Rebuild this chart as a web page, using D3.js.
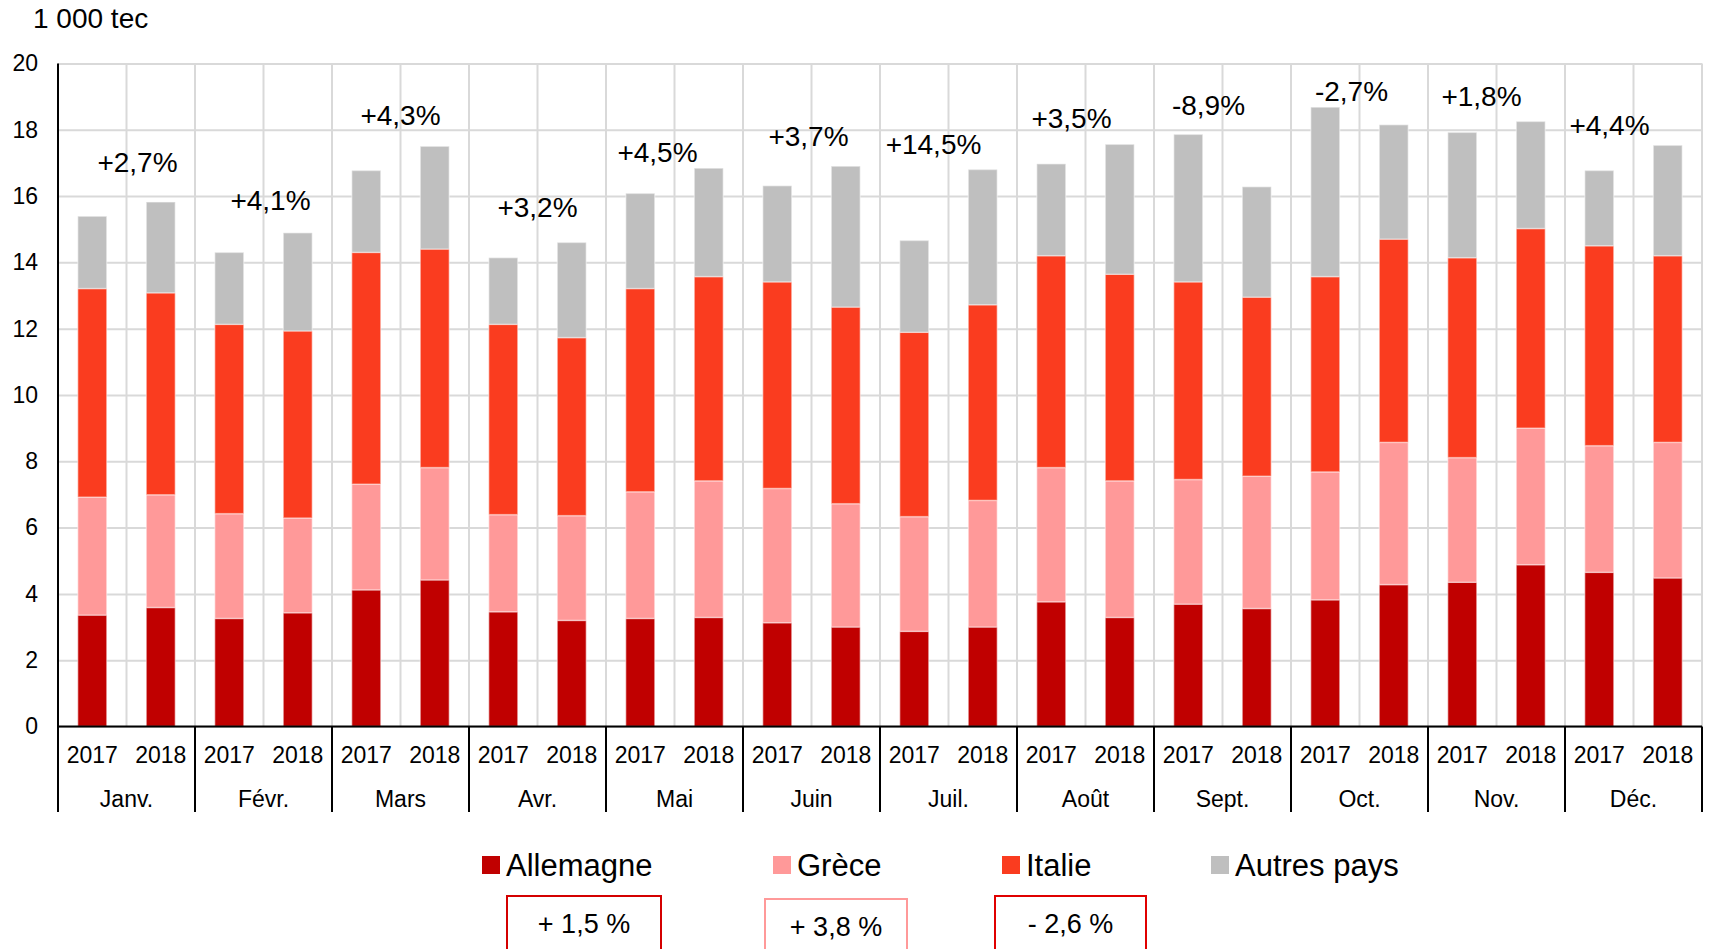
<!DOCTYPE html>
<html>
<head>
<meta charset="utf-8">
<script src="https://cdn.jsdelivr.net/npm/d3@7"></script>
<style>
  body { margin: 0; background: #fff; }
  svg { display: block; font-family: "Liberation Sans", Arial, sans-serif; }
</style>
</head>
<body>
<svg id="chart" width="1713" height="949"></svg>
<script>
// months and years (each month has a 2017 and a 2018 bar)
const months = ["Janv.", "Févr.", "Mars", "Avr.", "Mai", "Juin", "Juil.", "Août", "Sept.", "Oct.", "Nov.", "Déc."];
const years = ["2017", "2018"];

// values in 1 000 tec, ordered Janv 2017, Janv 2018, Févr 2017, ...
const allemagne = [3.36, 3.59, 3.26, 3.43, 4.12, 4.42, 3.46, 3.20, 3.26, 3.29, 3.13, 3.00,
                   2.87, 3.00, 3.76, 3.29, 3.69, 3.56, 3.82, 4.28, 4.35, 4.88, 4.65, 4.48];
const grece = [3.56, 3.40, 3.16, 2.86, 3.19, 3.39, 2.93, 3.16, 3.82, 4.12, 4.05, 3.72,
               3.46, 3.82, 4.05, 4.12, 3.76, 3.99, 3.86, 4.29, 3.76, 4.12, 3.82, 4.09];
const italie = [6.29, 6.09, 5.71, 5.64, 6.99, 6.59, 5.74, 5.37, 6.13, 6.16, 6.23, 5.93,
                5.56, 5.90, 6.39, 6.23, 5.96, 5.40, 5.89, 6.13, 6.03, 6.02, 6.03, 5.63];
const autres = [2.18, 2.74, 2.17, 2.96, 2.47, 3.10, 2.01, 2.87, 2.87, 3.27, 2.90, 4.25,
                2.77, 4.08, 2.77, 3.92, 4.45, 3.33, 5.11, 3.45, 3.78, 3.23, 2.27, 3.33];

// yearly change per month, printed above each pair
const monthChange = ["+2,7%", "+4,1%", "+4,3%", "+3,2%", "+4,5%", "+3,7%", "+14,5%", "+3,5%", "-8,9%", "-2,7%", "+1,8%", "+4,4%"];

const seriesNames = ["Allemagne", "Grèce", "Italie", "Autres pays"];
// yearly change for the first three countries (boxes under the legend)
const seriesChange = ["+ 1,5 %", "+ 3,8 %", "- 2,6 %"];

const yTicks = [0, 2, 4, 6, 8, 10, 12, 14, 16, 18, 20];

// where the month labels sit: value on y axis, pixel shift from month centre
const labelY = [17.0, 15.85, 18.42, 15.65, 17.3, 17.79, 17.56, 18.35, 18.72, 19.14, 19.01, 18.12];
const labelDx = [11, 7, 0, 0, -17, -3, -15, -14, -14, -8, -15, -24];

const colors = ["#c00000", "#ff9999", "#fa3c1f", "#bfbfbf"];

const svg = d3.select("#chart");
const plotLeft = 58, plotRight = 1702, plotTop = 63.4, plotBottom = 726.5;

const x0 = d3.scaleBand().domain(months).range([plotLeft, plotRight]);
const x1 = d3.scaleBand().domain(years).range([0, x0.bandwidth()])
    .paddingInner(0.577).paddingOuter(0.2885);
const y = d3.scaleLinear().domain([0, 20]).range([plotBottom, plotTop]);

// build rows for the stack
const rows = [];
months.forEach((m, i) => {
    years.forEach((yr, j) => {
        const k = i * 2 + j;
        rows.push({month: m, year: yr, "Allemagne": allemagne[k], "Grèce": grece[k], "Italie": italie[k], "Autres pays": autres[k]});
    });
});
const stacked = d3.stack().keys(seriesNames)(rows);

// horizontal grid + y labels
const yAxis = svg.append("g")
    .attr("transform", `translate(${plotLeft},0)`)
    .call(d3.axisLeft(y).tickValues(yTicks).tickSize(-(plotRight - plotLeft)).tickPadding(20));
yAxis.select(".domain").remove();
yAxis.selectAll("line").attr("stroke", "#d9d9d9").attr("stroke-width", 2);
yAxis.selectAll("text").attr("font-size", 23).attr("fill", "#000")
    .attr("font-family", "Liberation Sans, Arial, sans-serif");

// vertical grid between every bar slot
const slotEdges = [];
months.forEach(m => {
    slotEdges.push(x0(m) + x0.step() / 2);
    slotEdges.push(x0(m) + x0.step());
});
svg.append("g").selectAll("line").data(slotEdges).join("line")
    .attr("x1", d => d).attr("x2", d => d)
    .attr("y1", plotTop).attr("y2", plotBottom)
    .attr("stroke", "#d9d9d9").attr("stroke-width", 2);

// stacked bars
svg.append("g").selectAll("g").data(stacked).join("g")
    .attr("fill", (d, i) => colors[i])
    .selectAll("rect").data(d => d).join("rect")
    .attr("x", d => x0(d.data.month) + x1(d.data.year))
    .attr("width", x1.bandwidth())
    .attr("y", d => y(d[1]))
    .attr("height", d => y(d[0]) - y(d[1]))
    .attr("stroke", "rgba(255,255,255,0.4)")
    .attr("stroke-width", 1.5);

// axes lines
const axisBottom = 812;
svg.append("line").attr("x1", plotLeft).attr("x2", plotLeft).attr("y1", plotTop).attr("y2", axisBottom)
    .attr("stroke", "#000").attr("stroke-width", 2);
svg.append("line").attr("x1", plotLeft).attr("x2", plotRight).attr("y1", plotBottom).attr("y2", plotBottom)
    .attr("stroke", "#000").attr("stroke-width", 2);
svg.append("g").selectAll("line").data(months).join("line")
    .attr("x1", m => x0(m) + x0.step()).attr("x2", m => x0(m) + x0.step())
    .attr("y1", plotBottom).attr("y2", axisBottom)
    .attr("stroke", "#000").attr("stroke-width", 2);

// year labels
svg.append("g").selectAll("text").data(rows).join("text")
    .attr("x", d => x0(d.month) + x1(d.year) + x1.bandwidth() / 2)
    .attr("y", 755)
    .attr("text-anchor", "middle").attr("dominant-baseline", "central")
    .attr("font-size", 23)
    .text(d => d.year);

// month labels
svg.append("g").selectAll("text").data(months).join("text")
    .attr("x", m => x0(m) + x0.bandwidth() / 2)
    .attr("y", 799)
    .attr("text-anchor", "middle").attr("dominant-baseline", "central")
    .attr("font-size", 23)
    .text(m => m);

// change labels above each month
svg.append("g").selectAll("text").data(monthChange).join("text")
    .attr("x", (d, i) => x0(months[i]) + x0.bandwidth() / 2 + labelDx[i])
    .attr("y", (d, i) => y(labelY[i]))
    .attr("text-anchor", "middle").attr("dominant-baseline", "central")
    .attr("font-size", 28)
    .text(d => d);

// unit
svg.append("text").attr("x", 33).attr("y", 18)
    .attr("dominant-baseline", "central").attr("font-size", 28)
    .text("1 000 tec");

// legend
const legendX = [482, 773, 1002, 1211];
const legend = svg.append("g").selectAll("g").data(seriesNames).join("g")
    .attr("transform", (d, i) => `translate(${legendX[i]},865)`);
legend.append("rect").attr("x", 0).attr("y", -9).attr("width", 18).attr("height", 18)
    .attr("fill", (d, i) => colors[i]);
legend.append("text").attr("x", 24).attr("y", 0)
    .attr("dominant-baseline", "central").attr("font-size", 31)
    .text(d => d);

// change boxes
const boxes = [
    {x: 507, y: 896, w: 154, stroke: "#d40000"},
    {x: 765, y: 899, w: 142, stroke: "#ff9999"},
    {x: 995, y: 896, w: 151, stroke: "#e00000"}
];
const box = svg.append("g").selectAll("g").data(seriesChange).join("g");
box.append("rect")
    .attr("x", (d, i) => boxes[i].x).attr("y", (d, i) => boxes[i].y)
    .attr("width", (d, i) => boxes[i].w).attr("height", 80)
    .attr("fill", "none").attr("stroke", (d, i) => boxes[i].stroke).attr("stroke-width", 2);
box.append("text")
    .attr("x", (d, i) => boxes[i].x + boxes[i].w / 2)
    .attr("y", (d, i) => boxes[i].y + 28)
    .attr("text-anchor", "middle").attr("dominant-baseline", "central")
    .attr("font-size", 27)
    .text(d => d);
</script>
</body>
</html>
